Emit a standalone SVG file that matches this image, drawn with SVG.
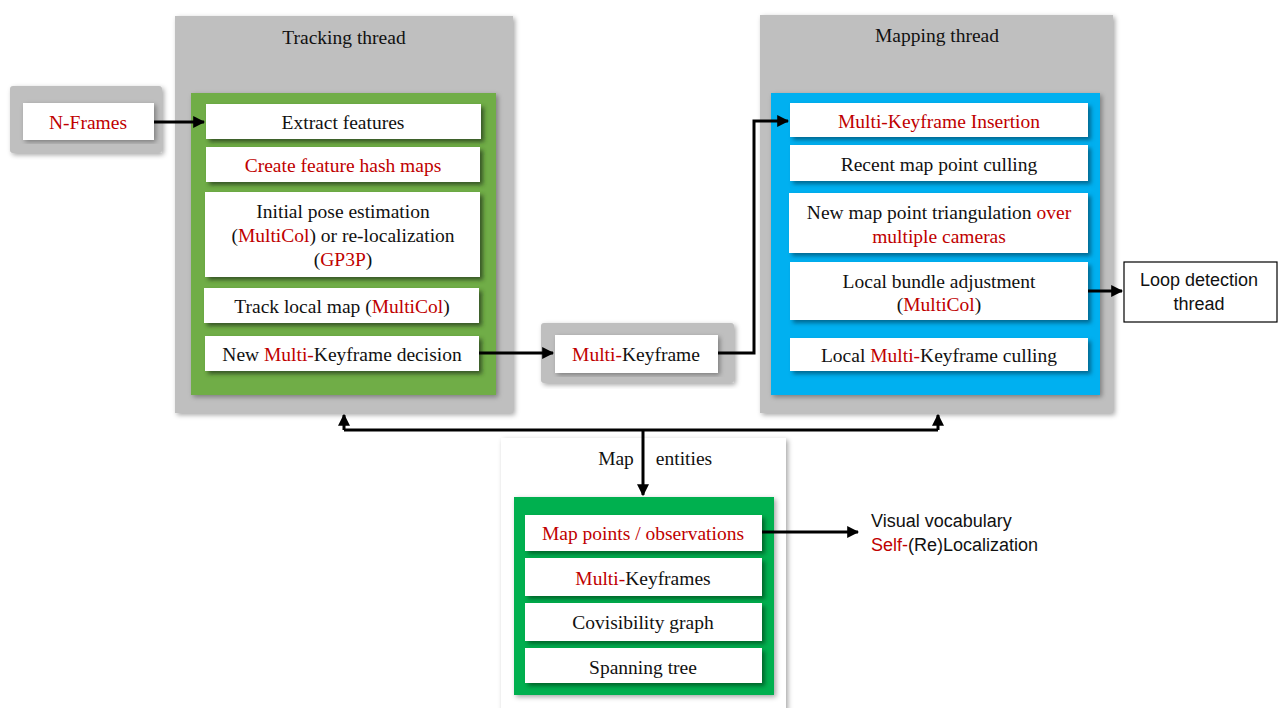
<svg xmlns="http://www.w3.org/2000/svg" width="1279" height="708" viewBox="0 0 1279 708">
<defs>
<filter id="shGray" x="-10%" y="-10%" width="120%" height="120%"><feDropShadow dx="2" dy="2" stdDeviation="2.5" flood-color="#000" flood-opacity="0.35"/></filter>
<filter id="shG" x="-10%" y="-20%" width="120%" height="150%"><feDropShadow dx="3" dy="3" stdDeviation="2" flood-color="#2d4a1c" flood-opacity="0.85"/></filter>
<filter id="shB" x="-10%" y="-20%" width="120%" height="150%"><feDropShadow dx="3" dy="3" stdDeviation="2" flood-color="#005c80" flood-opacity="0.85"/></filter>
<filter id="shM" x="-10%" y="-20%" width="120%" height="150%"><feDropShadow dx="3" dy="3" stdDeviation="2" flood-color="#005a28" flood-opacity="0.85"/></filter>
<marker id="ah" viewBox="0 0 10 10" refX="9" refY="5" markerWidth="4" markerHeight="4" orient="auto" markerUnits="strokeWidth"><path d="M0,0 L10,5 L0,10 z" fill="#000"/></marker>
</defs>
<style>
.gray{fill:#bfbfbf}
.item{fill:#fff}
.t{font-family:"Liberation Serif","Times New Roman",serif;font-size:19.5px;fill:#111;text-anchor:middle}
.s{font-family:"Liberation Sans",Arial,sans-serif;font-size:18px;fill:#111}
.r{fill:#c00000}
.ln{stroke:#000;stroke-width:3;fill:none}
</style>
<rect width="1279" height="708" fill="#fff"/>

<g id="nframes">
<rect class="gray" x="10" y="86" width="152" height="67" rx="3" filter="url(#shGray)"/>
<rect class="item" x="23" y="103" width="131" height="37" filter="url(#shGray)"/>
<text class="t r" x="88" y="129">N-Frames</text>
</g>

<g id="tracking">
<rect class="gray" x="175" y="16" width="338" height="397" filter="url(#shGray)"/>
<text class="t" x="344" y="44">Tracking thread</text>
<rect x="191" y="93" width="305" height="302" fill="#70ad47" filter="url(#shGray)"/>
<g id="extract"><rect class="item" x="206" y="104" width="275" height="35" filter="url(#shG)"/><text class="t" x="343" y="129">Extract features</text></g>
<g id="hashmaps"><rect class="item" x="206" y="147" width="274" height="35" filter="url(#shG)"/><text class="t r" x="343" y="172">Create feature hash maps</text></g>
<g id="initpose"><rect class="item" x="205" y="192" width="275" height="85" filter="url(#shG)"/>
<text class="t" x="343" y="218">Initial pose estimation</text>
<text class="t" x="343" y="242">(<tspan class="r">MultiCol</tspan>) or re-localization</text>
<text class="t" x="343" y="266">(<tspan class="r">GP3P</tspan>)</text></g>
<g id="tracklocal"><rect class="item" x="204" y="288" width="275" height="35" filter="url(#shG)"/><text class="t" x="342" y="313">Track local map (<tspan class="r">MultiCol</tspan>)</text></g>
<g id="newmkf"><rect class="item" x="205" y="336" width="274" height="35" filter="url(#shG)"/><text class="t" x="342" y="361">New <tspan class="r">Multi-</tspan>Keyframe decision</text></g>
</g>

<g id="multikeyframe">
<rect class="gray" x="541" y="323" width="193" height="60" rx="3" filter="url(#shGray)"/>
<rect class="item" x="555" y="335" width="163" height="38" filter="url(#shGray)"/>
<text class="t" x="636" y="361"><tspan class="r">Multi-</tspan>Keyframe</text>
</g>

<g id="mapping">
<rect class="gray" x="760" y="15" width="353" height="398" filter="url(#shGray)"/>
<text class="t" x="937" y="42">Mapping thread</text>
<rect x="771" y="93" width="329" height="302" fill="#00b0f0" filter="url(#shGray)"/>
<g id="mkfinsert"><rect class="item" x="790" y="103" width="298" height="34" filter="url(#shB)"/><text class="t r" x="939" y="128">Multi-Keyframe Insertion</text></g>
<g id="culling"><rect class="item" x="790" y="145" width="298" height="36" filter="url(#shB)"/><text class="t" x="939" y="171">Recent map point culling</text></g>
<g id="triang"><rect class="item" x="789" y="193" width="299" height="60" filter="url(#shB)"/>
<text class="t" x="939" y="219">New map point triangulation <tspan class="r">over</tspan></text>
<text class="t r" x="939" y="243">multiple cameras</text></g>
<g id="lba"><rect class="item" x="790" y="262" width="298" height="58" filter="url(#shB)"/>
<text class="t" x="939" y="288">Local bundle adjustment</text>
<text class="t" x="939" y="311">(<tspan class="r">MultiCol</tspan>)</text></g>
<g id="kfcull"><rect class="item" x="790" y="338" width="298" height="33" filter="url(#shB)"/><text class="t" x="939" y="362">Local <tspan class="r">Multi-</tspan>Keyframe culling</text></g>
</g>

<g id="loop">
<rect x="1124" y="262" width="153" height="60" fill="#fff" stroke="#000" stroke-width="1.2"/>
<text class="s" x="1199" y="286" text-anchor="middle">Loop detection</text>
<text class="s" x="1199" y="310" text-anchor="middle">thread</text>
</g>

<g id="mapentities">
<rect x="501" y="438" width="285" height="280" fill="#fff" filter="url(#shGray)"/>
<text class="t" y="465"><tspan x="616">Map</tspan><tspan x="684">entities</tspan></text>
<rect x="514" y="497" width="260" height="198" fill="#00b050" filter="url(#shGray)"/>
<g id="mappoints"><rect class="item" x="525" y="515" width="237" height="36" filter="url(#shM)"/><text class="t r" x="643" y="540">Map points / observations</text></g>
<g id="mkfs"><rect class="item" x="525" y="558" width="237" height="38" filter="url(#shM)"/><text class="t" x="643" y="585"><tspan class="r">Multi-</tspan>Keyframes</text></g>
<g id="covis"><rect class="item" x="525" y="603" width="237" height="38" filter="url(#shM)"/><text class="t" x="643" y="629">Covisibility graph</text></g>
<g id="spanning"><rect class="item" x="525" y="648" width="237" height="35" filter="url(#shM)"/><text class="t" x="643" y="674">Spanning tree</text></g>
</g>

<g id="vocab">
<text class="s" x="871" y="527">Visual vocabulary</text>
<text class="s" x="871" y="551"><tspan class="r">Self-</tspan>(Re)Localization</text>
</g>

<g id="connectors">
<path class="ln" d="M154,122 H204" marker-end="url(#ah)"/>
<path class="ln" d="M479,353 H553" marker-end="url(#ah)"/>
<path class="ln" d="M718,353 H754 V121 H788" marker-end="url(#ah)"/>
<path class="ln" d="M1088,291 H1122" marker-end="url(#ah)"/>
<path class="ln" d="M344,430 H938"/>
<path class="ln" d="M344,430 V415" marker-end="url(#ah)"/>
<path class="ln" d="M938,430 V415" marker-end="url(#ah)"/>
<path class="ln" d="M643,430 V495" marker-end="url(#ah)"/>
<path class="ln" d="M762,532 H858" marker-end="url(#ah)"/>
</g>
</svg>
